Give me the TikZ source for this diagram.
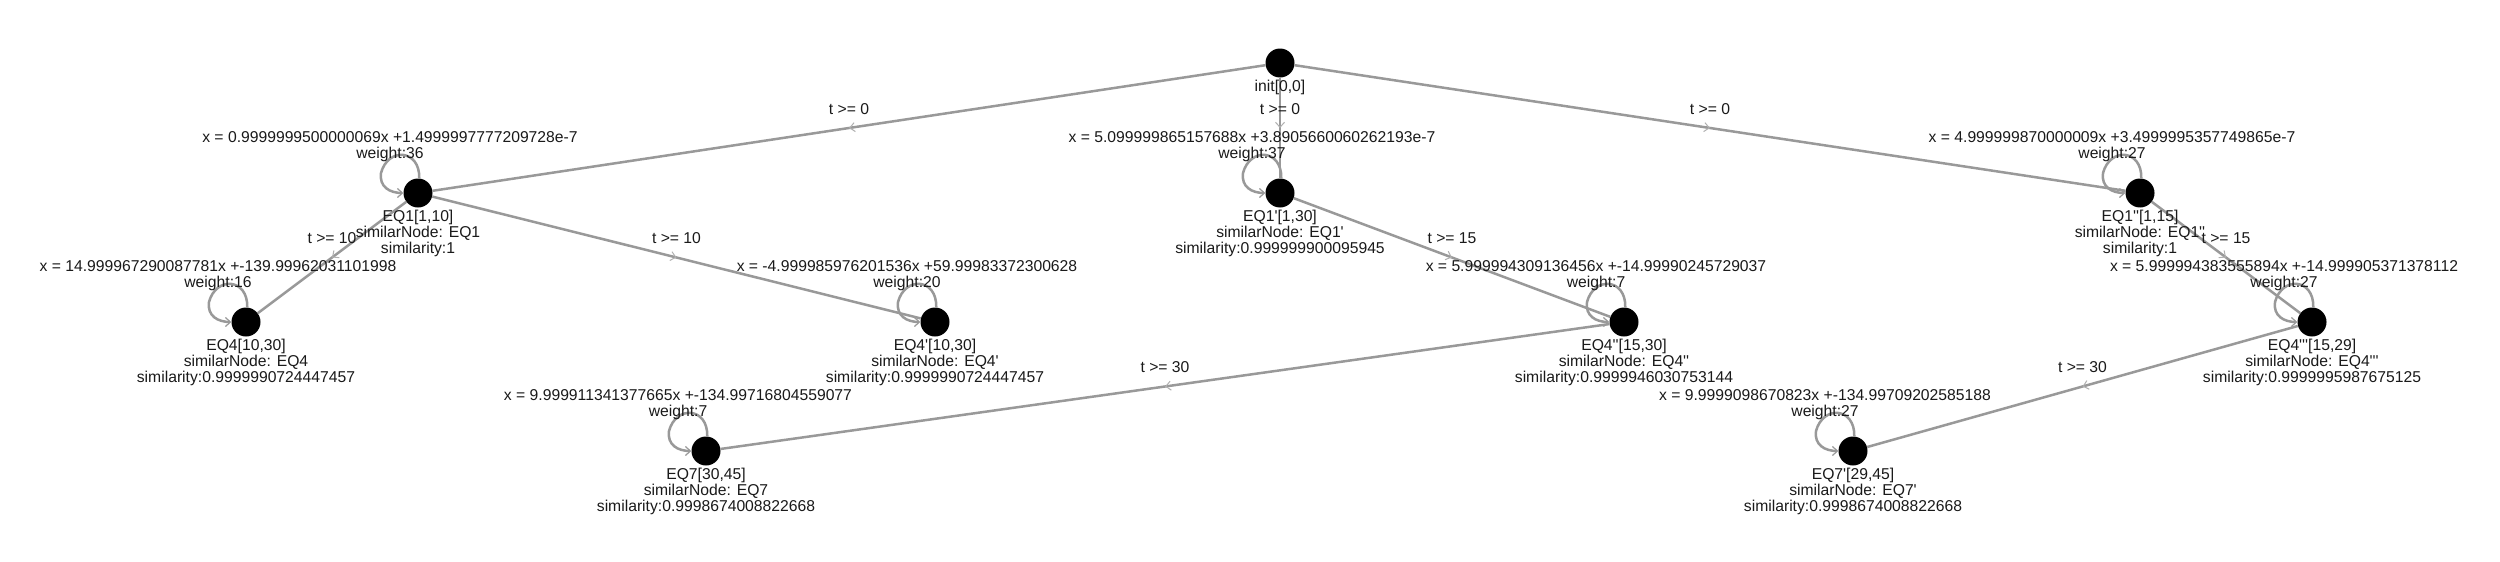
\documentclass[tikz,border=0pt]{standalone}
\usepackage{fontspec}
\setmainfont{Liberation Sans}[Ligatures=TeXOff]
\usetikzlibrary{arrows.meta,decorations.markings,calc}
\definecolor{edgec}{HTML}{999999}
\definecolor{markc}{HTML}{B0B0B0}
\definecolor{txt}{HTML}{1A1A1A}
\newcommand{\lfont}{\fontsize{15.7}{15.8}\selectfont}
\tikzset{
  st/.style={circle,fill=black,minimum size=29pt,inner sep=0pt},
  edge/.style={draw=edgec,line width=2.5pt,postaction={decorate},
    decoration={markings,mark=at position 0.5 with {\arrow{Straight Barb[length=5pt,width=9pt,line width=1pt,color=markc]}}}},
  loopedge/.style={draw=edgec,line width=2.5pt,-{Straight Barb[length=5pt,width=9pt,line width=1.2pt]}},
  elabel/.style={anchor=base,yshift=14pt,inner sep=0pt,font=\lfont,text=txt},
  nlabel/.style={anchor=base,inner sep=0pt,font=\lfont,text=txt},
}
\newcommand{\nlab}[2]{\node[nlabel] (#1-lab) at ($(#1)+(0,28.6)$) {\begin{tabular}[t]{@{}c@{}}#2\end{tabular}};}
\newcommand{\llab}[2]{\node[nlabel] (#1-loop) at ($(#1)+(-28,-50.4)$) {\begin{tabular}[t]{@{}c@{}}#2\end{tabular}};}
\newcommand{\selfloop}[1]{\draw[loopedge] (#1.85) .. controls ($(#1)+(2,-44)$) and ($(#1)+(-30,-46)$) .. ($(#1)+(-37,-20)$) .. controls ($(#1)+(-39,-6)$) and ($(#1)+(-28,0)$) .. (#1.west);}
\begin{document}
\begin{tikzpicture}[x=1pt,y=-1pt]
\useasboundingbox[fill=white] (0,0) rectangle (2500,562);
% states
\node[st] (init)   at (1280,63) {};
\node[st] (eq1)    at (418,193) {};
\node[st] (eq1p)   at (1280,193) {};
\node[st] (eq1pp)  at (2140,193) {};
\node[st] (eq4)    at (246,322) {};
\node[st] (eq4p)   at (935,322) {};
\node[st] (eq4pp)  at (1624,322) {};
\node[st] (eq4ppp) at (2312,322) {};
\node[st] (eq7)    at (706,451) {};
\node[st] (eq7p)   at (1853,451) {};
% transitions
\draw[edge] (init) -- node[elabel]{t >= 0} (eq1);
\draw[edge] (init) -- node[elabel]{t >= 0} (eq1p);
\draw[edge] (init) -- node[elabel]{t >= 0} (eq1pp);
\draw[edge] (eq1) -- node[elabel]{t >= 10} (eq4);
\draw[edge] (eq1) -- node[elabel]{t >= 10} (eq4p);
\draw[edge] (eq1p) -- node[elabel]{t >= 15} (eq4pp);
\draw[edge] (eq1pp) -- node[elabel]{t >= 15} (eq4ppp);
\draw[edge] (eq4pp) -- node[elabel]{t >= 30} (eq7);
\draw[edge] (eq4ppp) -- node[elabel]{t >= 30} (eq7p);
% self loops
\selfloop{eq1}
\selfloop{eq1p}
\selfloop{eq1pp}
\selfloop{eq4}
\selfloop{eq4p}
\selfloop{eq4pp}
\selfloop{eq4ppp}
\selfloop{eq7}
\selfloop{eq7p}
% loop labels
\llab{eq1}{x = 0.9999999500000069x +1.4999997777209728e-7\\weight:36}
\llab{eq1p}{x = 5.099999865157688x +3.8905660060262193e-7\\weight:37}
\llab{eq1pp}{x = 4.999999870000009x +3.4999995357749865e-7\\weight:27}
\llab{eq4}{x = 14.999967290087781x +-139.99962031101998\\weight:16}
\llab{eq4p}{x = -4.999985976201536x +59.99983372300628\\weight:20}
\llab{eq4pp}{x = 5.999994309136456x +-14.99990245729037\\weight:7}
\llab{eq4ppp}{x = 5.999994383555894x +-14.999905371378112\\weight:27}
\llab{eq7}{x = 9.999911341377665x +-134.99716804559077\\weight:7}
\llab{eq7p}{x = 9.9999098670823x +-134.99709202585188\\weight:27}
% state labels
\nlab{init}{init[0,0]}
\nlab{eq1}{EQ1[1,10]\\similarNode: EQ1\\similarity:1}
\nlab{eq1p}{EQ1'[1,30]\\similarNode: EQ1'\\similarity:0.999999900095945}
\nlab{eq1pp}{EQ1''[1,15]\\similarNode: EQ1''\\similarity:1}
\nlab{eq4}{EQ4[10,30]\\similarNode: EQ4\\similarity:0.9999990724447457}
\nlab{eq4p}{EQ4'[10,30]\\similarNode: EQ4'\\similarity:0.9999990724447457}
\nlab{eq4pp}{EQ4''[15,30]\\similarNode: EQ4''\\similarity:0.9999946030753144}
\nlab{eq4ppp}{EQ4'''[15,29]\\similarNode: EQ4'''\\similarity:0.9999995987675125}
\nlab{eq7}{EQ7[30,45]\\similarNode: EQ7\\similarity:0.9998674008822668}
\nlab{eq7p}{EQ7'[29,45]\\similarNode: EQ7'\\similarity:0.9998674008822668}
\end{tikzpicture}
\end{document}
